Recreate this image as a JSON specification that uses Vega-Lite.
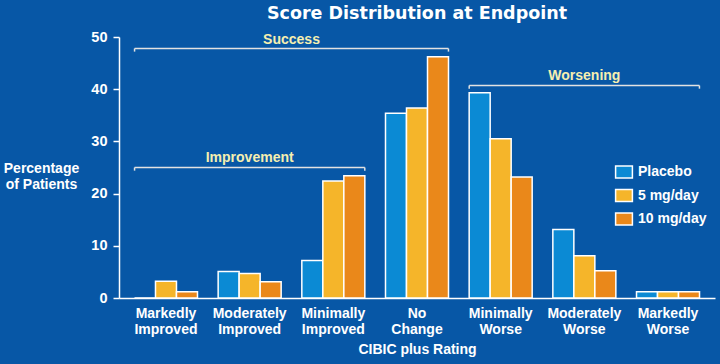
{
  "$schema": "https://vega.github.io/schema/vega-lite/v6.json",
  "width": 596,
  "height": 261,
  "autosize": "none",
  "padding": {"left": 119, "top": 37, "right": 5, "bottom": 66},
  "background": "#0757a6",
  "config": {"font": "Liberation Sans", "view": {"stroke": null}},
  "title": {"text": "Score Distribution at Endpoint", "fontSize": 17.5, "fontWeight": "bold", "color": "white", "anchor": "middle", "frame": "group", "offset": 7, "font": "DejaVu Sans"},
  "datasets": {
    "bars": [
      {"rating": "Markedly Improved", "group": "Placebo", "pct": 0},
      {"rating": "Markedly Improved", "group": "5 mg/day", "pct": 3.2},
      {"rating": "Markedly Improved", "group": "10 mg/day", "pct": 1.2},
      {"rating": "Moderately Improved", "group": "Placebo", "pct": 5.1},
      {"rating": "Moderately Improved", "group": "5 mg/day", "pct": 4.7},
      {"rating": "Moderately Improved", "group": "10 mg/day", "pct": 3.1},
      {"rating": "Minimally Improved", "group": "Placebo", "pct": 7.2},
      {"rating": "Minimally Improved", "group": "5 mg/day", "pct": 22.4},
      {"rating": "Minimally Improved", "group": "10 mg/day", "pct": 23.4},
      {"rating": "No Change", "group": "Placebo", "pct": 35.4},
      {"rating": "No Change", "group": "5 mg/day", "pct": 36.4},
      {"rating": "No Change", "group": "10 mg/day", "pct": 46.2},
      {"rating": "Minimally Worse", "group": "Placebo", "pct": 39.3},
      {"rating": "Minimally Worse", "group": "5 mg/day", "pct": 30.5},
      {"rating": "Minimally Worse", "group": "10 mg/day", "pct": 23.2},
      {"rating": "Moderately Worse", "group": "Placebo", "pct": 13.1},
      {"rating": "Moderately Worse", "group": "5 mg/day", "pct": 8.1},
      {"rating": "Moderately Worse", "group": "10 mg/day", "pct": 5.2},
      {"rating": "Markedly Worse", "group": "Placebo", "pct": 1.2},
      {"rating": "Markedly Worse", "group": "5 mg/day", "pct": 1.2},
      {"rating": "Markedly Worse", "group": "10 mg/day", "pct": 1.2}
    ],
    "brackets": [
      {"label": "Success", "start": -0.376, "end": 3.376, "mid": 1.5, "y": 47.8, "ylow": 47.2, "ty": 49.5},
      {"label": "Improvement", "start": -0.376, "end": 2.376, "mid": 1.0, "y": 25.0, "ylow": 24.4, "ty": 26.9},
      {"label": "Worsening", "start": 3.624, "end": 6.376, "mid": 5.0, "y": 40.7, "ylow": 40.1, "ty": 42.6}
    ]
  },
  "layer": [
    {
      "data": {"name": "bars"},
      "mark": {"type": "bar", "stroke": "white", "strokeWidth": 1.5},
      "encoding": {
        "x": {
          "field": "rating", "type": "nominal",
          "sort": ["Markedly Improved", "Moderately Improved", "Minimally Improved", "No Change", "Minimally Worse", "Moderately Worse", "Markedly Worse"],
          "scale": {"paddingInner": 0.247, "paddingOuter": 0.185},
          "axis": {
            "labelExpr": "split(datum.label, ' ')", "labelAngle": 0, "ticks": false,
            "domainColor": "white", "domainWidth": 1.5,
            "labelColor": "white", "labelFontSize": 14, "labelFontWeight": "bold", "labelLineHeight": 16, "labelPadding": 8, "labelBaseline": "top",
            "title": "CIBIC plus Rating", "titleColor": "white", "titleFontSize": 14, "titleFontWeight": "bold", "titlePadding": 6
          }
        },
        "xOffset": {"field": "group", "type": "nominal", "sort": ["Placebo", "5 mg/day", "10 mg/day"], "scale": {"paddingInner": 0, "paddingOuter": 0}},
        "y": {
          "field": "pct", "type": "quantitative",
          "scale": {"domain": [0, 50], "nice": false},
          "axis": {
            "values": [0, 5, 10, 15, 20, 25, 30, 35, 40, 45, 50],
            "labelExpr": "datum.value % 10 === 0 ? datum.label : ''",
            "grid": false, "domainColor": "white", "domainWidth": 1.5,
            "tickColor": "white", "tickWidth": 1.5, "tickSize": 6,
            "labelColor": "white", "labelFontSize": 14.5, "labelFontWeight": "bold", "labelPadding": 6,
            "title": ["Percentage", "of Patients"], "titleAngle": 0, "titleX": -78, "titleY": 131,
            "titleAlign": "center", "titleBaseline": "middle", "titleColor": "white", "titleFontSize": 14, "titleFontWeight": "bold", "titleLineHeight": 16
          }
        },
        "color": {
          "field": "group", "type": "nominal",
          "scale": {"domain": ["Placebo", "5 mg/day", "10 mg/day"], "range": ["#0b8ad4", "#f5b52a", "#ea881a"]},
          "legend": {
            "orient": "none", "legendX": 498, "legendY": 128, "title": null,
            "symbolType": "M-1.4,-1H1.4V1H-1.4Z", "symbolSize": 144,
            "symbolStrokeColor": "white", "symbolStrokeWidth": 1.5, "symbolOpacity": 1,
            "labelColor": "white", "labelFontSize": 14, "labelFontWeight": "bold", "labelOffset": 7, "rowPadding": 5.5
          }
        }
      }
    },
    {
      "data": {"name": "brackets"},
      "mark": {"type": "rule", "color": "#e2e2e2", "strokeWidth": 1.5},
      "encoding": {
        "x": {"field": "start", "type": "quantitative", "scale": {"domain": [-0.562, 6.562], "nice": false, "zero": false}, "axis": null},
        "x2": {"field": "end"},
        "y": {"field": "y", "type": "quantitative"}
      }
    },
    {
      "data": {"name": "brackets"},
      "mark": {"type": "rule", "color": "#e2e2e2", "strokeWidth": 1.5},
      "encoding": {
        "x": {"field": "start", "type": "quantitative", "scale": {"domain": [-0.562, 6.562], "nice": false, "zero": false}, "axis": null},
        "y": {"field": "y", "type": "quantitative"},
        "y2": {"field": "ylow"}
      }
    },
    {
      "data": {"name": "brackets"},
      "mark": {"type": "rule", "color": "#e2e2e2", "strokeWidth": 1.5},
      "encoding": {
        "x": {"field": "end", "type": "quantitative", "scale": {"domain": [-0.562, 6.562], "nice": false, "zero": false}, "axis": null},
        "y": {"field": "y", "type": "quantitative"},
        "y2": {"field": "ylow"}
      }
    },
    {
      "data": {"name": "brackets"},
      "mark": {"type": "text", "color": "#f5efb0", "fontSize": 14, "fontWeight": "bold", "align": "center", "baseline": "middle"},
      "encoding": {
        "x": {"field": "mid", "type": "quantitative", "scale": {"domain": [-0.562, 6.562], "nice": false, "zero": false}, "axis": null},
        "y": {"field": "ty", "type": "quantitative"},
        "text": {"field": "label"}
      }
    }
  ],
  "resolve": {"scale": {"x": "independent"}}
}
